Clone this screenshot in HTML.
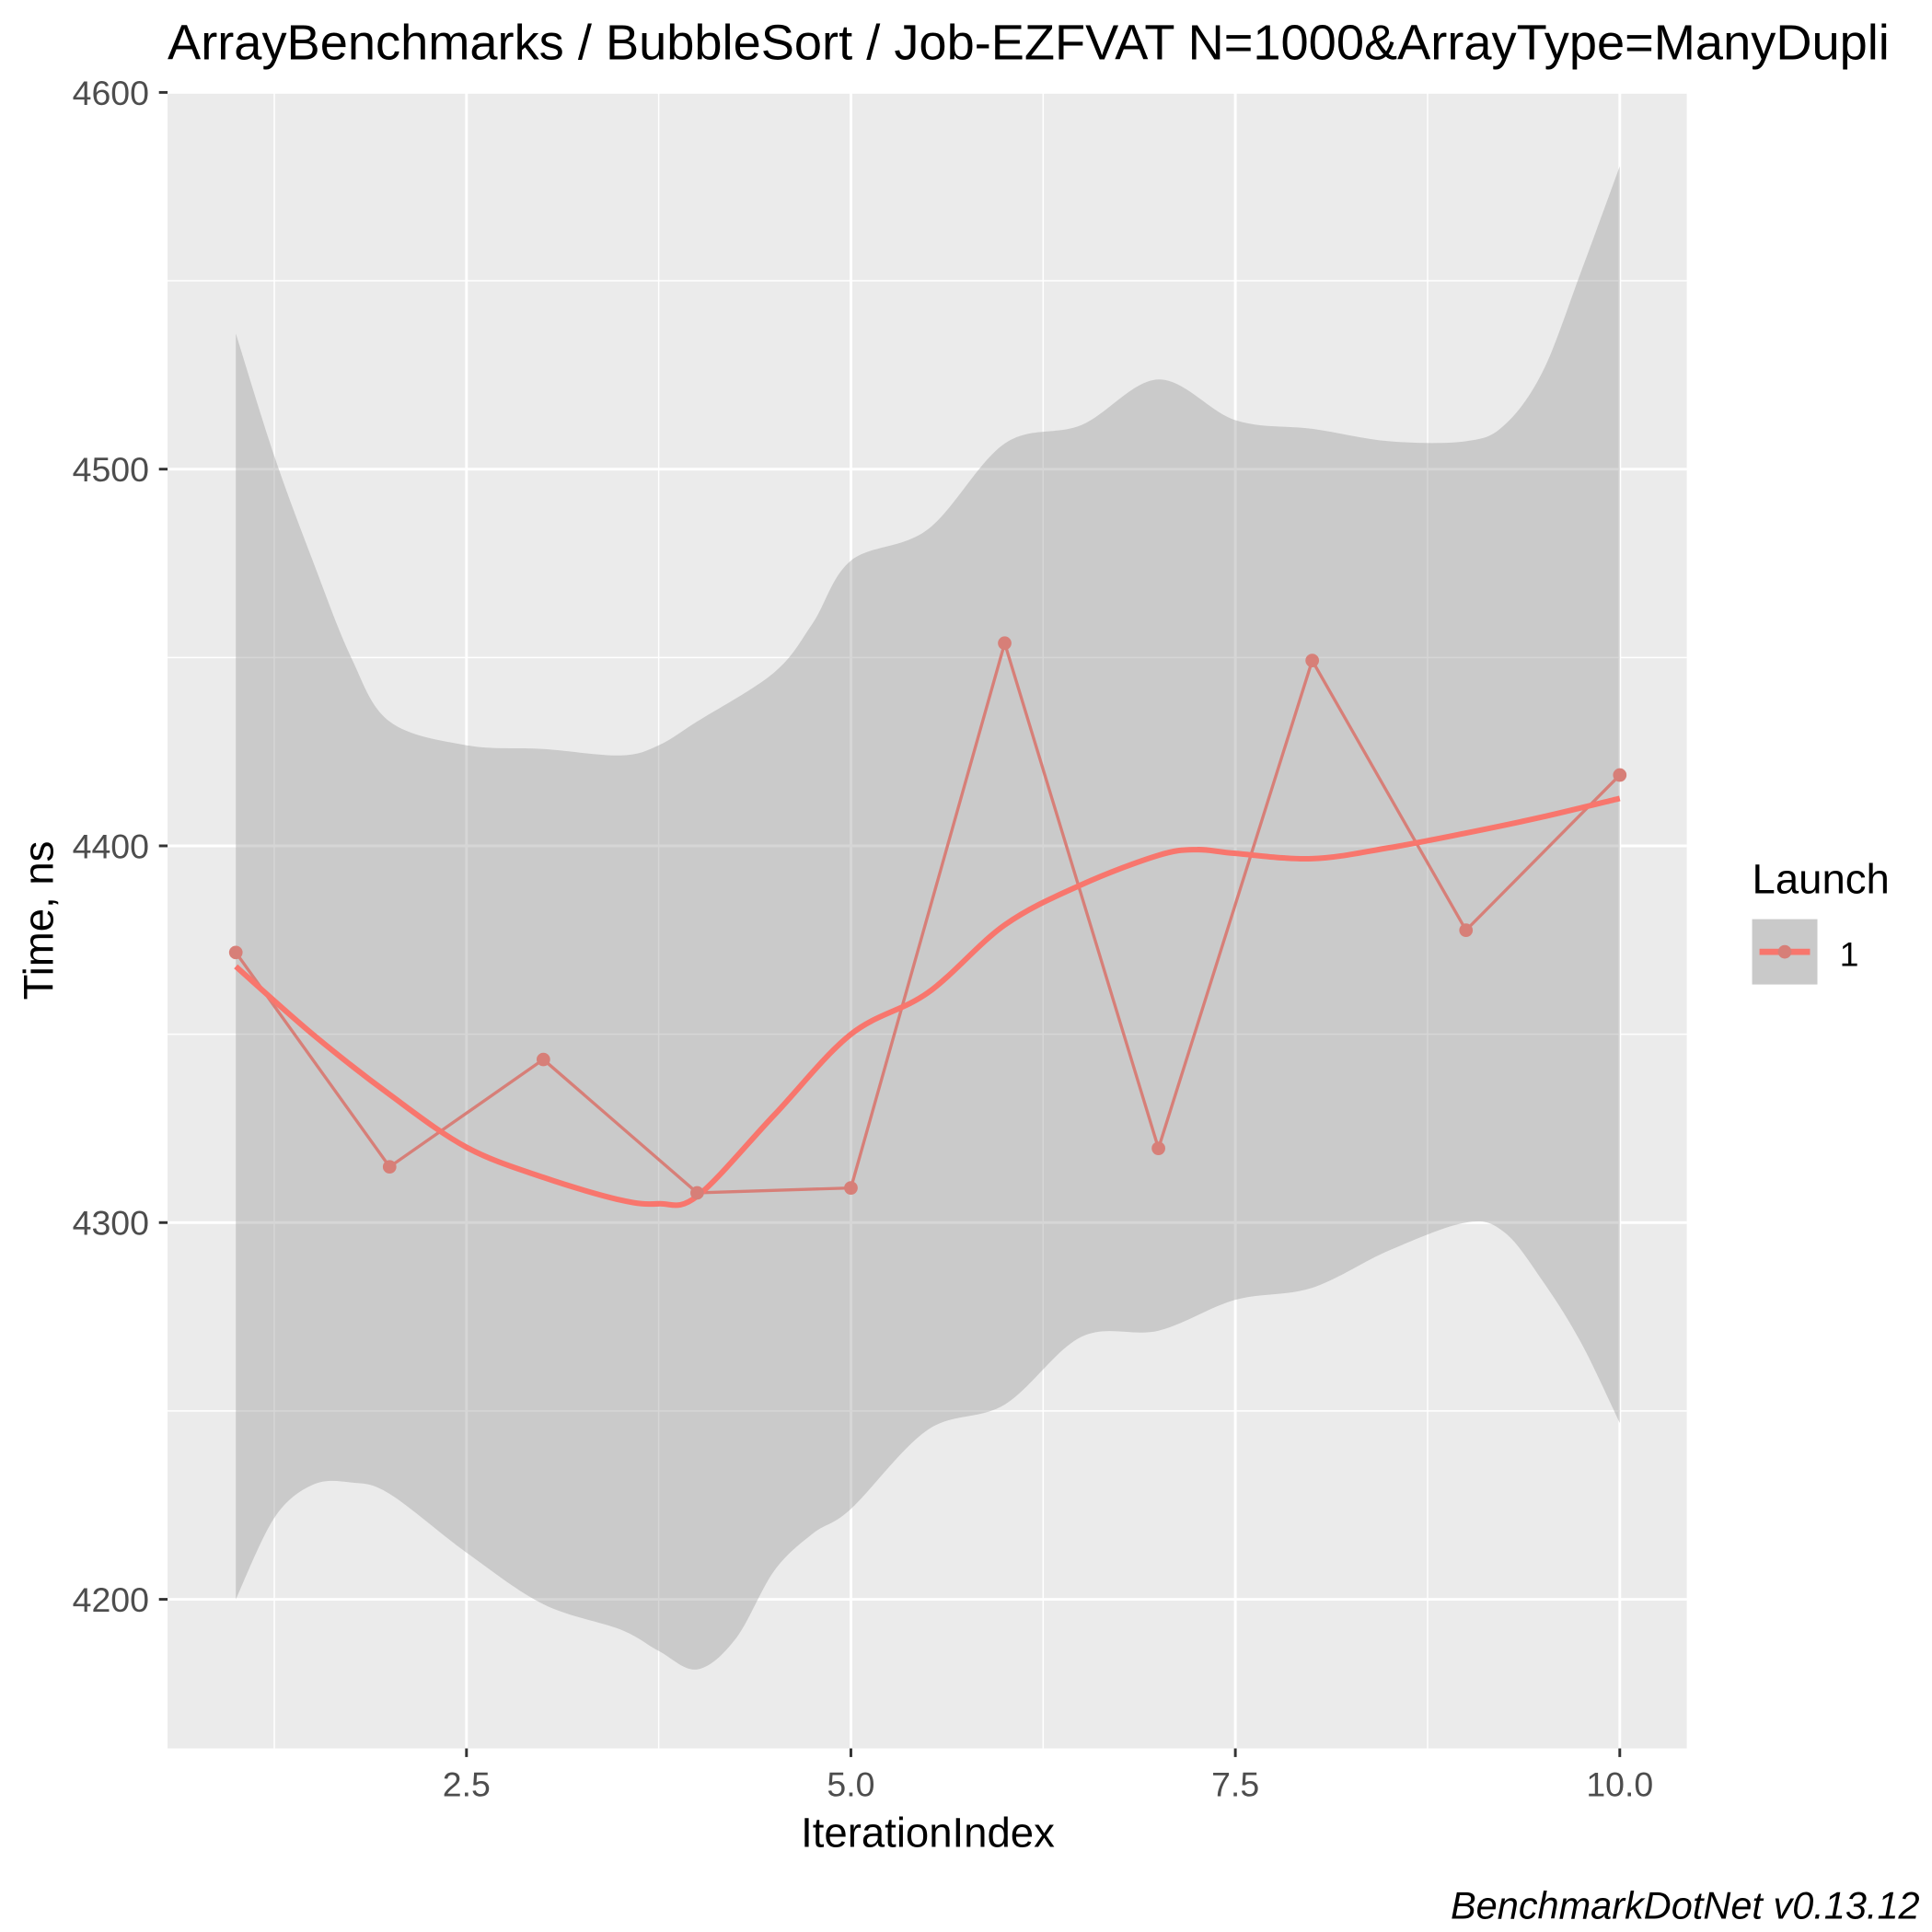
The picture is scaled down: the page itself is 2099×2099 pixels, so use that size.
<!DOCTYPE html>
<html><head><meta charset="utf-8"><style>html,body{margin:0;padding:0;background:#fff}svg{display:block}text{font-family:"Liberation Sans",sans-serif}</style></head>
<body>
<svg id="chart" width="2099" height="2099" viewBox="0 0 1568 1568" xmlns="http://www.w3.org/2000/svg">
<rect width="1568" height="1568" fill="#fff"/>
<text x="136" y="48" font-size="40.5" fill="#000">ArrayBenchmarks / BubbleSort / Job-EZFVAT N=1000&amp;ArrayType=ManyDupli</text>
<rect x="136" y="75" width="1233" height="1344" fill="#EBEBEB"/>
<g id="grid"></g>
<g id="marks"></g>
<g id="axes"></g>
<text x="753" y="1499" font-size="34" text-anchor="middle" fill="#000">IterationIndex</text>
<text transform="translate(43,747) rotate(-90)" font-size="34" text-anchor="middle" fill="#000">Time, ns</text>
<text x="1422" y="725" font-size="34" fill="#000">Launch</text>
<g>
<rect x="1422" y="746" width="53" height="53" fill="#C9C9C9"/>
<line x1="1428" y1="772.5" x2="1469" y2="772.5" stroke="#F8766D" stroke-width="5"/>
<circle cx="1448.5" cy="772.5" r="5.5" fill="#D77F78"/>
<text x="1493" y="784" font-size="28" fill="#000">1</text>
</g>
<text x="1558" y="1557" font-size="31" font-style="italic" text-anchor="end" fill="#000">BenchmarkDotNet v0.13.12</text>
</svg>
<script>
const iterations=[1,2,3,4,5,6,7,8,9,10];
const times=[4371.7,4314.8,4343.3,4307.9,4309.2,4453.8,4319.7,4449.2,4377.6,4418.8];
const smoothX=[1,1.5,2,2.5,3,3.5,3.75,4,4.5,5,5.5,6,6.5,7,7.25,7.5,8,8.5,9,9.5,10];
const smoothY=[4368,4350,4334,4320,4312,4306,4305,4307,4328.5,4350,4361,4379,4389.7,4397.5,4399,4398,4396.6,4399.5,4403.4,4407.7,4412.6];
const upperX=[1,1.25,1.5,1.75,2,2.5,3,3.5,3.75,4,4.5,4.75,5,5.5,6,6.5,7,7.5,8,8.5,9,9.25,9.5,9.75,10];
const upperY=[4536,4503.5,4475.7,4450,4433,4426.7,4425.7,4424,4426.7,4433,4446,4459,4475.7,4484,4506.8,4511.7,4523.8,4513,4510.7,4507.4,4507.4,4511.7,4526,4552.6,4580.4];
const lowerX=[1,1.25,1.5,1.75,2,2.5,3,3.5,3.75,4,4.25,4.5,4.75,5,5.5,6,6.5,7,7.5,8,8.5,9,9.25,9.5,9.75,10];
const lowerY=[4200,4221.6,4230.4,4231,4228,4212.4,4198.7,4192,4186.3,4181.4,4189.5,4207.5,4217.4,4224,4245,4251.7,4269.7,4271.3,4279.5,4282.7,4292.6,4300,4297.4,4284.4,4268,4246.8];
const xTicks=[2.5,5.0,7.5,10.0];
const xTickLabels=["2.5","5.0","7.5","10.0"];
const xMinor=[1.25,3.75,6.25,8.75];
const yTicks=[4200,4300,4400,4500,4600];
const yMinor=[4250,4350,4450,4550];

const NS="http://www.w3.org/2000/svg";
const sx=v=>191.4+(v-1)*124.8;
const sy=v=>75+(4600-v)*3.0575;
function mk(tag,attrs,parent){const e=document.createElementNS(NS,tag);for(const k in attrs)e.setAttribute(k,attrs[k]);parent.appendChild(e);return e;}
function smooth(pts){let d="M"+pts[0][0]+","+pts[0][1];for(let i=0;i<pts.length-1;i++){const p0=pts[Math.max(i-1,0)],p1=pts[i],p2=pts[i+1],p3=pts[Math.min(i+2,pts.length-1)];const c1x=p1[0]+(p2[0]-p0[0])/6,c1y=p1[1]+(p2[1]-p0[1])/6,c2x=p2[0]-(p3[0]-p1[0])/6,c2y=p2[1]-(p3[1]-p1[1])/6;d+=" C"+c1x+","+c1y+" "+c2x+","+c2y+" "+p2[0]+","+p2[1];}return d;}
const grid=document.getElementById('grid'),marks=document.getElementById('marks'),axes=document.getElementById('axes');
yMinor.forEach(v=>{const l=mk('line',{x1:136,x2:1369,y1:sy(v),y2:sy(v),stroke:'#fff','stroke-width':1.1},grid);

});
xMinor.forEach(v=>{const l=mk('line',{x1:sx(v),x2:sx(v),y1:75,y2:1419,stroke:'#fff','stroke-width':1.1},grid);

});
yTicks.forEach(v=>{const l=mk('line',{x1:136,x2:1369,y1:sy(v),y2:sy(v),stroke:'#fff','stroke-width':2.2},grid);


const t=mk('line',{x1:129,x2:136,y1:sy(v),y2:sy(v),stroke:'#333','stroke-width':2.2},axes);


const tx=mk('text',{x:121,y:sy(v)+10,'font-size':28,'text-anchor':'end',fill:'#4D4D4D'},axes);tx.textContent=String(v);

});
xTicks.forEach((v,i)=>{const l=mk('line',{x1:sx(v),x2:sx(v),y1:75,y2:1419,stroke:'#fff','stroke-width':2.2},grid);


const t=mk('line',{x1:sx(v),x2:sx(v),y1:1419,y2:1426,stroke:'#333','stroke-width':2.2},axes);


const tx=mk('text',{x:sx(v),y:1458,'font-size':28,'text-anchor':'middle',fill:'#4D4D4D'},axes);tx.textContent=xTickLabels[i];

});
const up=upperX.map((x,i)=>[sx(x),sy(upperY[i])]);
const lo=lowerX.map((x,i)=>[sx(x),sy(lowerY[i])]).reverse();
const lod=smooth(lo);
let rd=smooth(up)+" L"+lo[0][0]+","+lo[0][1]+lod.slice(lod.indexOf(" C"))+" Z";
const rib=mk('path',{d:rd,fill:'#999999','fill-opacity':0.4},marks);


const raw=mk('polyline',{points:iterations.map((x,i)=>sx(x)+","+sy(times[i])).join(" "),fill:'none',stroke:'#D77F78','stroke-width':2.5},marks);


const sm=mk('path',{d:smooth(smoothX.map((x,i)=>[sx(x),sy(smoothY[i])])),fill:'none',stroke:'#F8766D','stroke-width':4.5},marks);


iterations.forEach((x,i)=>{const c=mk('circle',{cx:sx(x),cy:sy(times[i]),r:5.5,fill:'#D77F78'},marks);

});
</script>
</body></html>
